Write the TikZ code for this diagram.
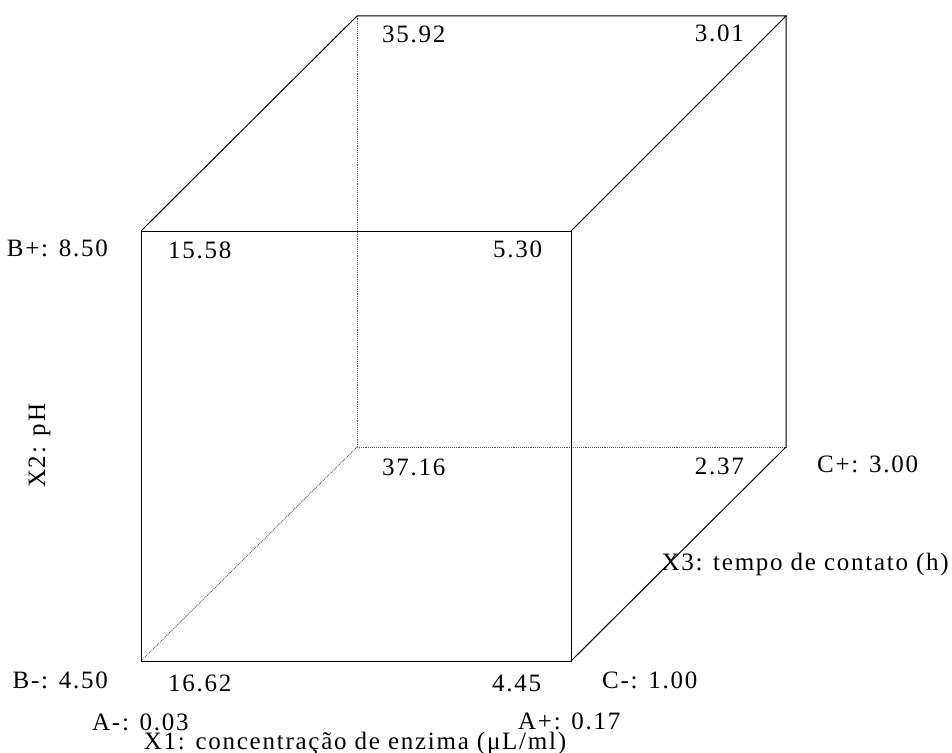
\documentclass[tikz,border=0pt]{standalone}
\usepackage{fontspec}
\setmainfont{Liberation Serif}[LetterSpace=7]
\usepackage{tikz}

\begin{document}
\begin{tikzpicture}[
  x=1bp, y=-1bp,
  edge/.style={line width=1bp, line join=miter},
  hidden/.style={line width=0.9bp, black!65, densely dotted},
  val/.style={inner sep=0pt, font=\fontsize{25bp}{30bp}\selectfont}
]
  \useasboundingbox (0,0) rectangle (952,753);
  \coordinate (ftl) at (141,231);
  \coordinate (ftr) at (571,231);
  \coordinate (fbl) at (141,661);
  \coordinate (fbr) at (571,661);
  \coordinate (btl) at (357,16);
  \coordinate (btr) at (786,16);
  \coordinate (bbl) at (357,447);
  \coordinate (bbr) at (786,447);

  \draw[hidden] (fbl) -- (bbl);
  \draw[hidden] (bbl) -- (btl);
  \draw[hidden] (bbl) -- (bbr);
  \draw[edge] (fbl) -- (fbr) -- (ftr) -- (ftl) -- cycle;
  \draw[edge] (ftl) -- (btl) -- (btr) -- (ftr);
  \draw[edge] (btr) -- (bbr) -- (fbr);

  \node[val, anchor=base west] (v3592) at (382,43) {35.92};
  \node[val, anchor=base east] (v301) at (744,42) {3.01};
  \node[val, anchor=base west] (v1558) at (168,258) {15.58};
  \node[val, anchor=base west] (v530) at (493,257) {5.30};
  \node[val, anchor=base east] (bplus) at (108,256) {B+: 8.50};
  \node[val, anchor=base west] (v3716) at (382,475) {37.16};
  \node[val, anchor=base east] (v237) at (744,474) {2.37};
  \node[val, anchor=base west] (cplus) at (817,472) {C+: 3.00};
  \node[val, anchor=base east] (xthree) at (949,570) {X3: tempo de contato (h)};
  \node[val, anchor=base east] (bminus) at (108,688) {B-: 4.50};
  \node[val, anchor=base west] (v1662) at (168,691) {16.62};
  \node[val, anchor=base west] (v445) at (492,691) {4.45};
  \node[val, anchor=base west] (cminus) at (602,688) {C-: 1.00};
  \node[val, anchor=base west] (aminus) at (92,730) {A-: 0.03};
  \node[val, anchor=base west] (aplus) at (518,729) {A+: 0.17};
  \node[val, anchor=base] (xone) at (355,749) {X1: concentração de enzima (μL/ml)};
  \node[val, anchor=base west, rotate=90] (xtwo) at (45,488) {X2: pH};
\end{tikzpicture}
\end{document}
